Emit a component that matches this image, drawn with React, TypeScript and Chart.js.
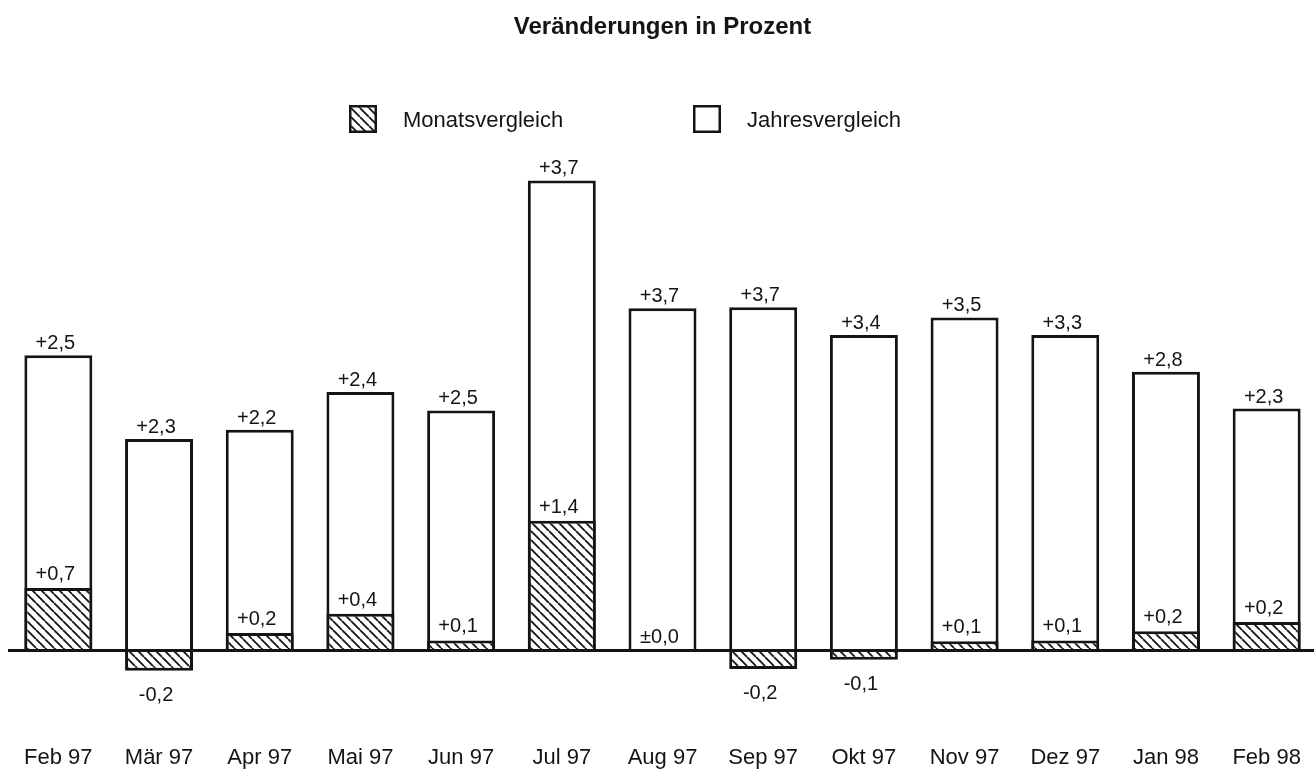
import React, { useEffect, useRef } from 'react';
import { Chart, registerables } from 'chart.js';

Chart.register(...registerables);

// ---- Data ----
const kategorien = ['Feb 97', 'Mär 97', 'Apr 97', 'Mai 97', 'Jun 97', 'Jul 97', 'Aug 97', 'Sep 97', 'Okt 97', 'Nov 97', 'Dez 97', 'Jan 98', 'Feb 98'];

// drawn bar heights (as they appear in the picture)
const monatsWerte = [0.68, -0.22, 0.19, 0.40, 0.11, 1.41, 0, -0.20, -0.10, 0.10, 0.11, 0.21, 0.31];
const jahresWerte = [3.21, 2.30, 2.40, 2.81, 2.61, 5.11, 3.72, 3.73, 3.43, 3.62, 3.43, 3.03, 2.63];

// printed value labels
const monatsBeschriftung = ['+0,7', '-0,2', '+0,2', '+0,4', '+0,1', '+1,4', '±0,0', '-0,2', '-0,1', '+0,1', '+0,1', '+0,2', '+0,2'];
const jahresBeschriftung = ['+2,5', '+2,3', '+2,2', '+2,4', '+2,5', '+3,7', '+3,7', '+3,7', '+3,4', '+3,5', '+3,3', '+2,8', '+2,3'];

const titel = 'Veränderungen in Prozent';

const INK = '#141414';
const FONT = '"Liberation Sans", Arial, Helvetica, sans-serif';

function makeHatch(): CanvasPattern | string {
  const s = 9;
  const c = document.createElement('canvas');
  c.width = s;
  c.height = s;
  const g = c.getContext('2d');
  if (!g) return '#fff';
  g.fillStyle = '#fff';
  g.fillRect(0, 0, s, s);
  g.strokeStyle = INK;
  g.lineWidth = 1.8;
  g.beginPath();
  for (const o of [-s, 0, s]) {
    g.moveTo(o, 0);
    g.lineTo(o + s, s);
  }
  g.stroke();
  const p = g.createPattern(c, 'repeat');
  return p || '#fff';
}

const titlePlugin = {
  id: 'titelText',
  afterDraw(chart: any) {
    const ctx = chart.ctx as CanvasRenderingContext2D;
    const area = chart.chartArea;
    ctx.save();
    ctx.fillStyle = INK;
    ctx.font = `bold 24px ${FONT}`;
    ctx.textAlign = 'center';
    ctx.textBaseline = 'alphabetic';
    ctx.fillText(titel, (area.left + area.right) / 2, 34);
    ctx.restore();
  },
};

const legendPlugin = {
  id: 'eigeneLegende',
  afterDraw(chart: any) {
    const ctx = chart.ctx as CanvasRenderingContext2D;
    const items = [
      { x: 349, ds: chart.data.datasets[0] },
      { x: 693, ds: chart.data.datasets[1] },
    ];
    ctx.save();
    for (const it of items) {
      const bx = it.x, by = 105, bw = 28, bh = 28;
      ctx.fillStyle = it.ds.backgroundColor;
      ctx.fillRect(bx, by, bw, bh);
      ctx.strokeStyle = INK;
      ctx.lineWidth = 2.5;
      ctx.strokeRect(bx + 1.25, by + 1.25, bw - 2.5, bh - 2.5);
      ctx.fillStyle = INK;
      ctx.font = `22px ${FONT}`;
      ctx.textAlign = 'left';
      ctx.textBaseline = 'alphabetic';
      ctx.fillText(it.ds.label, bx + bw + 26, 127);
    }
    ctx.restore();
  },
};

const valueLabelPlugin = {
  id: 'werteText',
  afterDatasetsDraw(chart: any) {
    const ctx = chart.ctx as CanvasRenderingContext2D;
    ctx.save();
    ctx.fillStyle = INK;
    ctx.font = `20px ${FONT}`;
    ctx.textAlign = 'center';
    ctx.textBaseline = 'alphabetic';
    const metaJ = chart.getDatasetMeta(1);
    metaJ.data.forEach((bar: any, i: number) => {
      ctx.fillText(jahresBeschriftung[i], bar.x - 3, bar.y - 6);
    });
    const metaM = chart.getDatasetMeta(0);
    metaM.data.forEach((bar: any, i: number) => {
      if (monatsWerte[i] >= 0) {
        ctx.fillText(monatsBeschriftung[i], bar.x - 3, bar.y - 8);
      } else {
        ctx.fillText(monatsBeschriftung[i], bar.x - 3, bar.y + 30);
      }
    });
    ctx.restore();
  },
};

export default function App() {
  const ref = useRef<HTMLCanvasElement | null>(null);

  useEffect(() => {
    if (!ref.current) return;
    Chart.defaults.font.family = FONT;
    const hatch = makeHatch();
    const chart = new Chart(ref.current, {
      type: 'bar',
      data: {
        labels: kategorien,
        datasets: [
          {
            label: 'Monatsvergleich',
            data: monatsWerte,
            backgroundColor: hatch as any,
            borderColor: INK,
            borderWidth: 3,
            borderSkipped: 'start',
            grouped: false,
            barPercentage: 0.675,
            categoryPercentage: 1,
          } as any,
          {
            label: 'Jahresvergleich',
            data: jahresWerte,
            backgroundColor: '#ffffff',
            borderColor: INK,
            borderWidth: 3,
            borderSkipped: 'start',
            grouped: false,
            barPercentage: 0.675,
            categoryPercentage: 1,
          } as any,
        ],
      },
      options: {
        responsive: false,
        animation: false,
        layout: { padding: { left: 8, right: 3, top: 144.5, bottom: 4.1 } },
        plugins: {
          legend: { display: false },
          title: { display: false },
          tooltip: { enabled: false },
        },
        scales: {
          x: {
            grid: { display: false, drawTicks: false, tickLength: 0 },
            border: { display: false },
            ticks: {
              color: INK,
              font: { family: FONT, size: 22 },
              padding: 2,
              maxRotation: 0,
              autoSkip: false,
            },
            afterFit: (scale: any) => {
              scale.height = 28.4;
            },
          },
          y: {
            min: -1,
            max: 5.5,
            z: 1,
            ticks: { display: false, stepSize: 1 },
            border: { display: false },
            grid: {
              drawTicks: false,
              lineWidth: 3,
              color: (c: any) => (c.tick && c.tick.value === 0 ? INK : 'rgba(0,0,0,0)'),
            },
          },
        },
      } as any,
      plugins: [valueLabelPlugin, legendPlugin, titlePlugin],
    });
    return () => chart.destroy();
  }, []);

  return (
    <div style={{ position: 'absolute', left: 0, top: 0, width: 1314, height: 775, overflow: 'hidden', background: '#fff' }}>
      <canvas ref={ref} width={1320} height={775} style={{ display: 'block' }} />
    </div>
  );
}
